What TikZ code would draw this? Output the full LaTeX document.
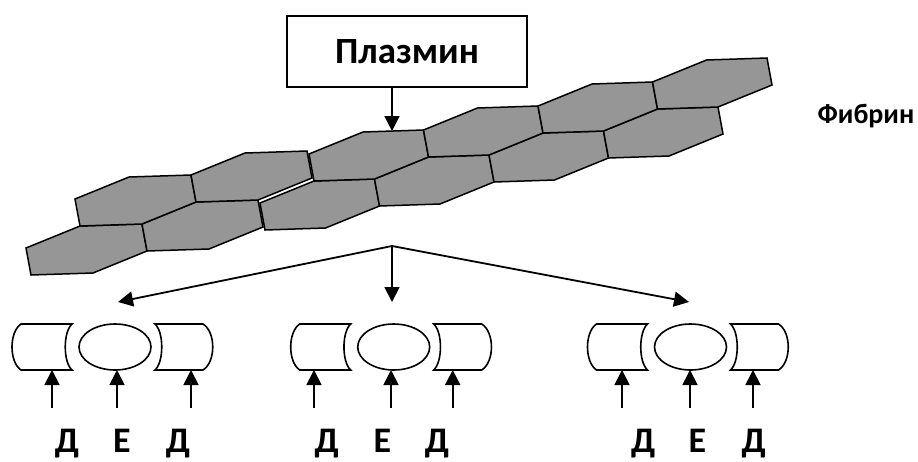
\documentclass[tikz,border=0pt]{standalone}
\usepackage{fontspec}
\setmainfont{Carlito}
\usetikzlibrary{arrows.meta,shapes.geometric}
\definecolor{fibgray}{RGB}{150,150,150}
\tikzset{
  cell/.style={fill=fibgray, draw=black, line width=1.5pt},
  piece/.style={draw=black, line width=1.6pt, fill=white},
  arr/.style={line width=1.8pt, -{Triangle[length=15pt,width=15pt]}},
  arrboth/.style={line width=1.8pt, {Triangle[length=15pt,width=15pt]}-{Triangle[length=15pt,width=15pt]}},
  boxed/.style={draw, line width=2pt, minimum width=240pt, minimum height=71pt,
    text height=24pt, text depth=0pt, inner sep=0pt, font=\fontsize{37}{40}\selectfont\bfseries},
  letter/.style={anchor=base, inner sep=0pt, font=\fontsize{36}{40}\selectfont\bfseries},
  caption/.style={anchor=base, inner sep=0pt, font=\fontsize{28}{32}\selectfont\bfseries},
  core/.style={ellipse, draw=black, line width=1.6pt, minimum width=72pt, minimum height=46pt, inner sep=0pt},
}
% one hexagonal fibrin cell: #1,#2 = left corner, #3 = width of the top edge
\newcommand\fibcell[3]{%
  \filldraw[cell] (#1,#2) -- (#1+54,#2-22) -- (#1+#3,#2-24) -- (#1+#3+5,#2+3)
    -- (#1+#3-49,#2+25) -- (#1+5,#2+27) -- cycle;}
% outer D fragments around an E core centred at x = #1
\newcommand\dpieceleft[1]{%
  \filldraw[piece] (#1-43,324) -- (#1-94,324) .. controls (#1-106,332) and (#1-106,362) .. (#1-94,370)
    -- (#1-43,370) .. controls (#1-52,362) and (#1-52,332) .. (#1-43,324) -- cycle;}
\newcommand\dpieceright[1]{%
  \filldraw[piece] (#1+40,324) -- (#1+88,324) .. controls (#1+101,332) and (#1+101,362) .. (#1+88,370)
    -- (#1+40,370) .. controls (#1+49,362) and (#1+49,332) .. (#1+40,324) -- cycle;}
\begin{document}
\begin{tikzpicture}[x=1pt,y=-1pt]
\clip (0,0) rectangle (918,461);

% enzyme
\node[boxed] (plasmin) at (407,51.5) {Плазмин};

% fibrin strand: left block
\fibcell{26}{248}{116}
\fibcell{142}{224}{116}
\fibcell{75}{199}{116}
\fibcell{191}{175}{116}
% fibrin strand: right block
\fibcell{260}{203}{114.5}
\fibcell{374.5}{179}{114.5}
\fibcell{489}{155}{114.5}
\fibcell{603.5}{131}{114.5}
\fibcell{309}{154}{114.5}
\fibcell{423.5}{130}{114.5}
\fibcell{538}{106}{114.5}
\fibcell{652.5}{82}{114.5}

\node[caption] (fibrin) at (866,123.3) {Фибрин};

% cleavage
\coordinate (cut) at (392,131);
\draw[arr] (plasmin.south -| cut) -- (cut);

\coordinate (split) at (392,246);
\coordinate (g1) at (118,302);
\coordinate (g2) at (392,302);
\coordinate (g3) at (689,302);
\draw[arrboth, line join=miter] (g1) -- (split) -- (g3);
\draw[arr] (split) -- (g2);

% degradation products D-E-D
\foreach \n/\c in {1/115,2/393.7,3/690.5}{
  \dpieceleft{\c}
  \dpieceright{\c}
  \node[core] (e\n) at (\c,347) {};
}

\foreach \n/\x in {1/52,2/117,3/191,4/314,5/391,6/452.7,7/622,8/690,9/753}{
  \coordinate (up\n) at (\x,408);
  \coordinate (hit\n) at (\x,370);
  \draw[arr] (up\n) -- (hit\n);
}

\foreach \n/\x/\t in {1/67/Д,2/122/Е,3/178/Д,4/326.7/Д,5/382.5/Е,6/437/Д,7/643.3/Д,8/697.5/Е,9/753.8/Д}{
  \node[letter] (lab\n) at (\x,452.5) {\t};
}
\end{tikzpicture}
\end{document}
